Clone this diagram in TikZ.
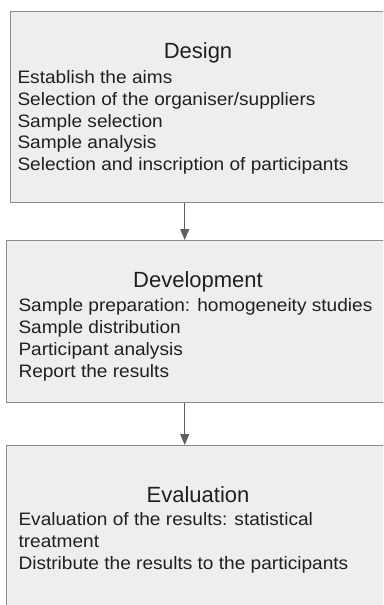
\documentclass[tikz,border=0pt]{standalone}
\usepackage{fontspec}
\setmainfont{Liberation Sans}
\newfontfamily\itemfont[FakeStretch=1.06]{Liberation Sans}
\usepackage{xcolor}
\usetikzlibrary{arrows.meta, positioning}

\definecolor{boxfill}{HTML}{EEEEEE}
\definecolor{boxline}{HTML}{8C8C8C}
\definecolor{flowgray}{HTML}{5F5F5F}
\definecolor{inkgray}{HTML}{202020}

\begin{document}
\begin{tikzpicture}[x=1pt, y=-1pt,
        stage/.style={rectangle, draw=boxline, fill=boxfill, line width=1.4pt, anchor=north west, inner sep=0pt},
        stagetitle/.style={font=\fontsize{22}{26}\selectfont, text=inkgray, anchor=base},
        stageitems/.style={font=\itemfont\fontsize{18}{21.9}\selectfont, text=inkgray, align=left, anchor=north west, inner sep=0pt},
        flow/.style={-{Triangle[width=9pt, length=11pt]}, draw=flowgray, line width=1.1pt}]

        \useasboundingbox (0,0) rectangle (383,605);
        \clip (0,0) rectangle (383,605);

        % the three stages
        \node[stage, minimum width=376pt, minimum height=191pt] (design) at (10,11) {};
        \node[stage, minimum width=384pt, minimum height=162pt] (devel) at (6,240) {};
        \node[stage, minimum width=384pt, minimum height=200pt] (eval) at (6,445) {};

        \node[stagetitle] (designtitle) at (198,58.3) {Design};
        \node[stageitems] (designitems) at (17.3,70) {Establish the aims\\
                Selection of the organiser/suppliers\\
                Sample selection\\
                Sample analysis\\
                Selection and inscription of participants};

        \node[stagetitle] (develtitle) at (198,287) {Development};
        \node[stageitems] (develitems) at (18.3,298.5) {Sample preparation: homogeneity studies\\
                Sample distribution\\
                Participant analysis\\
                Report the results};

        \node[stagetitle] (evaltitle) at (198,502) {Evaluation};
        \node[stageitems] (evalitems) at (18.3,512.5) {Evaluation of the results: statistical\\
                treatment\\
                Distribute the results to the participants};

        % arrows between stages
        \draw[flow] ([xshift=-14pt]design.south) -- ([xshift=-14pt]design.south |- devel.north);
        \draw[flow] ([xshift=-14pt]design.south |- devel.south) -- ([xshift=-14pt]design.south |- eval.north);

    \end{tikzpicture}
\end{document}
